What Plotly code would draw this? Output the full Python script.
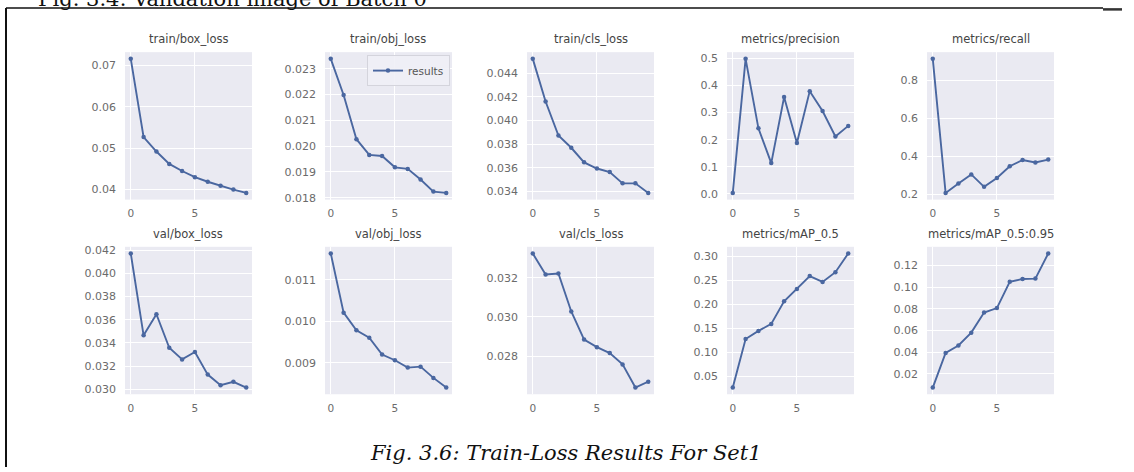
import plotly.graph_objects as go

W, H = 1134, 472

epochs = [0, 1, 2, 3, 4, 5, 6, 7, 8, 9]

titles = ["train/box_loss", "train/obj_loss", "train/cls_loss", "metrics/precision", "metrics/recall",
          "val/box_loss", "val/obj_loss", "val/cls_loss", "metrics/mAP_0.5", "metrics/mAP_0.5:0.95"]

train_box_loss = [0.0716, 0.0527, 0.0492, 0.0462, 0.0445, 0.0430, 0.0419, 0.0409, 0.0400, 0.0392]
train_obj_loss = [0.02338, 0.02198, 0.02027, 0.01966, 0.01962, 0.01918, 0.01912, 0.01871, 0.01824, 0.01819]
train_cls_loss = [0.04523, 0.04161, 0.03873, 0.03769, 0.03645, 0.03593, 0.03563, 0.03467, 0.03467, 0.03386]
precision = [0.004, 0.498, 0.242, 0.114, 0.357, 0.188, 0.379, 0.306, 0.212, 0.251]
recall = [0.913, 0.209, 0.258, 0.306, 0.241, 0.287, 0.349, 0.382, 0.369, 0.384]
val_box_loss = [0.04173, 0.03466, 0.03648, 0.03358, 0.03257, 0.03321, 0.03126, 0.03034, 0.03064, 0.03014]
val_obj_loss = [0.011636, 0.010209, 0.009783, 0.009605, 0.009200, 0.009062, 0.008884, 0.008907, 0.008636, 0.008403]
val_cls_loss = [0.033235, 0.032165, 0.032214, 0.03028, 0.028848, 0.02846, 0.02816, 0.02758, 0.02640, 0.02670]
map_05 = [0.0265, 0.1276, 0.1444, 0.159, 0.2062, 0.2317, 0.2586, 0.2465, 0.2667, 0.3056]
map_05_095 = [0.00716, 0.0391, 0.04597, 0.0579, 0.0764, 0.0806, 0.1048, 0.1075, 0.1078, 0.131]

series = [train_box_loss, train_obj_loss, train_cls_loss, precision, recall,
          val_box_loss, val_obj_loss, val_cls_loss, map_05, map_05_095]

ytick_labels = [
    ["0.04", "0.05", "0.06", "0.07"],
    ["0.018", "0.019", "0.020", "0.021", "0.022", "0.023"],
    ["0.034", "0.036", "0.038", "0.040", "0.042", "0.044"],
    ["0.0", "0.1", "0.2", "0.3", "0.4", "0.5"],
    ["0.2", "0.4", "0.6", "0.8"],
    ["0.030", "0.032", "0.034", "0.036", "0.038", "0.040", "0.042"],
    ["0.009", "0.010", "0.011"],
    ["0.028", "0.030", "0.032"],
    ["0.05", "0.10", "0.15", "0.20", "0.25", "0.30"],
    ["0.02", "0.04", "0.06", "0.08", "0.10", "0.12"],
]
xtick_vals = [0, 5]
xtick_labels = ["0", "5"]

caption = "Fig. 3.6: Train-Loss Results For Set1"
top_text = "Fig. 3.4: Validation image of Batch 0"

LINE = "#4a67a0"
BG = "#EAEAF2"
TICKC = "#6b6b6b"
TITLEC = "#444444"

col_left = [125, 325, 527, 727, 927]
pw = 127
row_top = [50, 248]
ph = 150

fig = go.Figure()
annotations = []

for i, (ttl, ys, labs) in enumerate(zip(titles, series, ytick_labels)):
    r, c = divmod(i, 5)
    n = i + 1
    xa = "x" if n == 1 else f"x{n}"
    ya = "y" if n == 1 else f"y{n}"
    fig.add_trace(go.Scatter(
        x=epochs, y=ys, mode="lines+markers", name="results",
        line=dict(color=LINE, width=1.9), marker=dict(color=LINE, size=4.5),
        xaxis=xa, yaxis=ya, showlegend=(i == 1),
    ))
    x0, x1 = col_left[c] / W, (col_left[c] + pw) / W
    y1, y0 = 1 - row_top[r] / H, 1 - (row_top[r] + ph) / H
    lo, hi = min(ys), max(ys)
    m = (hi - lo) * 0.05
    tv = [float(s) for s in labs]
    axkey = "xaxis" if n == 1 else f"xaxis{n}"
    aykey = "yaxis" if n == 1 else f"yaxis{n}"
    fig.update_layout(**{
        axkey: dict(domain=[x0, x1], anchor=ya, range=[-0.45, 9.45],
                    tickvals=xtick_vals, ticktext=xtick_labels, showgrid=True,
                    gridcolor="white", gridwidth=1, zeroline=False, showline=False,
                    ticks="", ticklabelstandoff=6,
                    tickfont=dict(family="DejaVu Sans", size=10.5, color=TICKC)),
        aykey: dict(domain=[y0, y1], anchor=xa, range=[lo - m, hi + m],
                    tickvals=tv, ticktext=labs, showgrid=True,
                    gridcolor="white", gridwidth=1, zeroline=False, showline=False,
                    ticks="", ticklabelstandoff=8,
                    tickfont=dict(family="DejaVu Sans", size=11, color=TICKC)),
    })
    annotations.append(dict(
        text=ttl, xref="paper", yref="paper", x=(x0 + x1) / 2, y=1 - (row_top[r] - 4) / H,
        xanchor="center", yanchor="bottom", showarrow=False,
        font=dict(family="DejaVu Sans", size=11.5, color=TITLEC)))

annotations.append(dict(
    text=caption, xref="paper", yref="paper", x=566 / W, y=1 - 458 / H,
    xanchor="center", yanchor="middle", showarrow=False,
    font=dict(family="DejaVu Serif", size=21, color="#111111", style="italic")))
annotations.append(dict(
    text=top_text, xref="paper", yref="paper", x=36 / W, y=1 - 10 / H,
    xanchor="left", yanchor="bottom", showarrow=False,
    font=dict(family="DejaVu Serif", size=21, color="#111111")))

shapes = [
    dict(type="line", xref="paper", yref="paper", x0=6 / W, x1=6 / W, y0=0, y1=1 - 5 / H,
         line=dict(color="#111111", width=2)),
    dict(type="line", xref="paper", yref="paper", x0=6 / W, x1=1103 / W, y0=1 - 5 / H, y1=1 - 5 / H,
         line=dict(color="#111111", width=1.5)),
    dict(type="line", xref="paper", yref="paper", x0=1103 / W, x1=1122 / W, y0=1 - 6.5 / H, y1=1 - 6.5 / H,
         line=dict(color="#333333", width=2.5)),
]

fig.update_layout(
    width=W, height=H, autosize=False,
    margin=dict(l=0, r=0, t=0, b=0),
    paper_bgcolor="white", plot_bgcolor=BG,
    annotations=annotations, shapes=shapes,
    legend=dict(x=450 / W, y=1 - 53 / H, xanchor="right", yanchor="top",
                bgcolor="rgba(240,240,246,0.9)", bordercolor="#d4d4dc", borderwidth=1,
                font=dict(family="DejaVu Sans", size=10.5, color="#555555"),
                itemwidth=30, tracegroupgap=0),
)

fig.write_html("out.html")
